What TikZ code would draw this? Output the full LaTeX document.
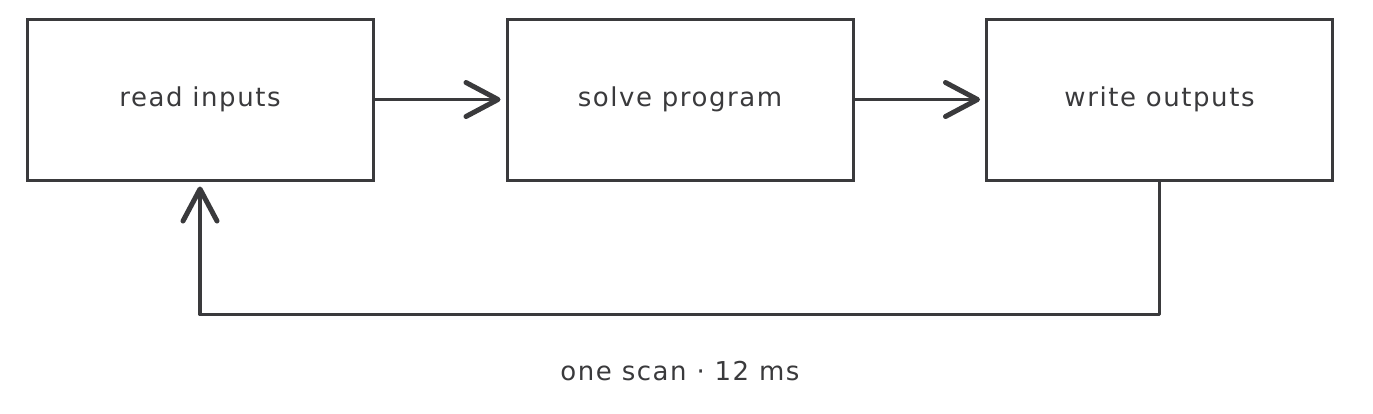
\documentclass[tikz,border=0pt]{standalone}
\usepackage{fontspec}
\setmainfont{DejaVu Sans}[LetterSpace=6]
\usetikzlibrary{arrows.meta}
\definecolor{ink}{HTML}{3A3A3C}
\tikzset{
  box/.style={draw=ink, line width=3pt, minimum width=346pt, minimum height=161pt, inner sep=0pt, font=\fontsize{26}{30}\selectfont, text=ink},
  flow/.style={draw=ink, line width=3.5pt, line cap=round, line join=round, shorten >=5pt, -{Straight Barb[length=32pt,width=34pt,round,line width=5pt]}},
  lbl/.style={font=\fontsize{26}{30}\selectfont, text=ink}
}
\begin{document}
\begin{tikzpicture}[x=1pt,y=-1pt]
\useasboundingbox (0,0) rectangle (1373,413);
\node[box] (read) at (200,99.5) {read inputs};
\node[box] (solve) at (680,99.5) {solve program};
\node[box] (write) at (1159.5,99.5) {write outputs};
\draw[flow] (read.east) -- (solve.west);
\draw[flow] (solve.east) -- (write.west);
\draw[flow] (write.south) -- ++(0,133) -| (read.south);
\node[lbl] (note) at (680,371) {one scan · 12 ms};
\end{tikzpicture}
\end{document}
